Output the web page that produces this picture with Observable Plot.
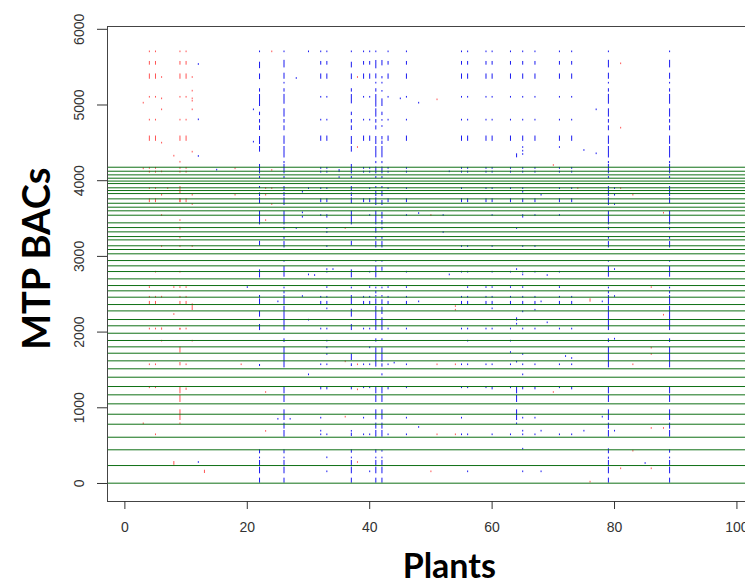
<!DOCTYPE html>
<html><head><meta charset="utf-8">
<script src="https://cdn.jsdelivr.net/npm/d3@7"></script>
<script src="https://cdn.jsdelivr.net/npm/@observablehq/plot@0.6"></script>
<style>html,body{margin:0;padding:0;background:#fff;overflow:hidden}svg{display:block}</style>
</head><body><div id="chart"></div>
<script>
const xTicks=[0,20,40,60,80,100];
const yTicks=[0,1000,2000,3000,4000,5000,6000];
const greenLines=[4178,4125,4077,4033,3995,3962,3906,3870,3830,3760,3702,3650,3602,3544,3443,3381,3324,3262,3218,3140,3091,3034,2945,2875,2800,2703,2615,2545,2461,2364,2280,2166,2083,1985,1889,1805,1721,1620,1515,1404,1281,1171,1052,915,783,611,445,237,4];

// Long vertical runs of the densely scored plants: [plant, [from,to]...]
const run22=[22,[5712,5692],[5565,5480],[5410,5335],[5215,5170],[5138,4980],[4905,4860],[4808,4760],[4725,4663],[4584,4478],[4452,4377],[4214,4090],[4055,4028],[3923,3896],[3839,3790],[3773,3694],[3597,3416],[3200,3139],[2822,2716],[2483,2452],[2439,2364],[2276,2197],[2100,2020],[1572,1545],[445,392],[348,326],[304,238],[216,128],[70,4]];
const run26=[26,[5712,5692],[5590,5490],[5420,5340],[5296,5280],[5215,5170],[5140,5010],[4950,4840],[4808,4760],[4725,4660],[4590,4480],[4452,4300],[4254,4225],[4214,4090],[4055,4028],[3923,3870],[3843,3790],[3773,3672],[3597,3416],[3385,3350],[3262,3227],[3196,3112],[2945,2923],[2866,2725],[2593,2571],[2540,2505],[2483,2364],[2342,2020],[1911,1862],[1801,1528],[1281,1184],[1162,1070],[973,832],[797,718],[700,612],[445,392],[348,326],[304,238],[216,128],[70,4]];
const run37=[37,[5712,5692],[5565,5490],[5410,5335],[5215,5170],[5138,5015],[4905,4860],[4808,4760],[4725,4663],[4584,4478],[4452,4377],[4214,4090],[4055,4028],[3923,3870],[3839,3790],[3773,3694],[3597,3416],[3200,3139],[2822,2716],[2593,2571],[2483,2364],[2302,2197],[2100,2020],[1713,1625],[1581,1545],[1281,1237],[700,678],[665,621],[445,400],[348,326],[304,238],[216,128],[70,4]];
const run41=[41,[5712,5692],[5588,5478],[5411,5345],[5297,5280],[5215,5170],[5138,4971],[4949,4839],[4808,4760],[4725,4670],[4584,4478],[4452,4302],[4254,4225],[4180,4090],[4055,4028],[3923,3896],[3860,3790],[3773,3672],[3597,3416],[3385,3306],[3262,3227],[3196,3112],[2945,2923],[2866,2716],[2593,2571],[2540,2505],[2483,2461],[2439,2364],[2342,2020],[1911,1867],[1792,1537],[1281,1184],[1162,1070],[973,841],[797,718],[700,612],[445,400],[348,326],[304,238],[216,128],[70,4]];
const run42=[42,[5588,5517],[5376,5345],[5297,5280],[5191,5170],[5081,4980],[4905,4860],[4808,4786],[4725,4707],[4584,4540],[4522,4478],[4452,4302],[4254,4225],[4180,4090],[4055,4028],[3923,3896],[3860,3790],[3738,3672],[3583,3495],[3473,3416],[3385,3350],[3262,3227],[3196,3112],[2945,2923],[2857,2804],[2593,2571],[2483,2461],[2426,2364],[2329,2232],[2188,2020],[1911,1889],[1792,1603],[1581,1537],[1449,1422],[1281,1184],[1162,1070],[973,841],[797,718],[700,612],[436,414],[348,326],[304,238],[216,128],[70,4]];
const run79=[79,[5712,5692],[5590,5490],[5420,5340],[5296,5280],[5215,5170],[5140,5010],[4950,4840],[4808,4760],[4725,4660],[4590,4480],[4452,4300],[4254,4225],[4214,4090],[4055,4028],[3923,3790],[3773,3672],[3597,3416],[3385,3350],[3262,3227],[3196,3112],[2945,2923],[2866,2725],[2593,2571],[2540,2505],[2483,2364],[2342,2020],[1911,1862],[1801,1528],[1281,1184],[1162,1070],[973,832],[797,718],[700,612],[458,392],[348,320],[304,238],[216,128],[70,4]];
const run89=[89,[5712,5692],[5590,5490],[5420,5340],[5296,5280],[5215,5170],[5140,5010],[4950,4840],[4808,4760],[4725,4660],[4590,4480],[4452,4300],[4254,4225],[4214,4090],[4055,4028],[3923,3790],[3773,3694],[3597,3416],[3385,3350],[3262,3227],[3196,3112],[2945,2923],[2866,2725],[2593,2571],[2540,2505],[2483,2364],[2342,2020],[1911,1862],[1801,1528],[1281,1184],[1162,1070],[973,832],[797,718],[700,612],[445,400],[348,326],[304,238],[216,128],[70,4]];
const run64=[64,[4355,4302],[3368,3368],[2826,2826],[2188,2144],[2104,2104],[1603,1603],[1281,1184],[1162,1070],[973,832],[797,780]];
const run9=[9,[4244,4244],[3923,3826],[3760,3710],[3473,3473],[3385,3350],[3244,3244],[3130,3130],[2791,2791],[2588,2588],[2043,2030],[1801,1722],[1598,1554],[1281,1184],[1162,1070],[973,832],[797,780]];

// Recurring rows of the regular plants: [from, to, [plants]]
const regular=[32,33,39,40,43,46,55,56,59,60,63,65,67,71,73];
const redRegular=[4,5,9,10];
const topRows=[[5712,5692],[5575,5526],[5410,5340],[5112,5092],[4810,4790],[4590,4520]];
const midRows=[[4175,4150],[4125,4100],[3760,3710],[2470,2450],[2405,2360],[2050,2030]];

const blueRows=[
[3905,3885,[30,32,33,40,43,46,55,59,60,63,65,71,73,80]],[3848,3848,[29,65]],[3808,3808,[68,80]],[3685,3685,[80]],
[3575,3575,[29]],[3566,3566,[48]],[3540,3540,[32,33,40,46,52,60,65,67,71]],[3517,3517,[29,33,65]],[3368,3368,[28,33]],[3315,3315,[33,52]],
[3130,3130,[33,55,56,60,65,67]],[2826,2826,[33,34,80]],[2791,2791,[33,40,46,55,56,60,63,65,67,71]],[2755,2755,[30,53,65]],[2747,2747,[31,69]],
[2588,2588,[20,33,40,43,46,56,59,60,63,65,71]],[2470,2470,[29,80]],[2399,2399,[48,25,68,78]],[2307,2307,[33,60]],[2267,2267,[65]],[2289,2289,[67]],[2157,2157,[30]],[2122,2122,[69]],
[1880,1880,[33,56,63]],[1906,1906,[80]],[1792,1792,[33,40]],[1730,1730,[63]],[1704,1704,[33,65]],[1677,1677,[72]],[1651,1651,[73]],[1590,1590,[44]],
[1568,1568,[32,33,39,40,43,46,55,56,59,60,63,65,67,71,73]],[1435,1435,[30,65]],[1281,1237,[32,33,43,60,65,67,73]],[1264,1264,[39,40,46,55,56,59,63,71]],
[863,863,[32,39,46,55,65,67]],[848,848,[25,27]],[876,876,[78]],[740,740,[48]],[691,691,[32,65,68,75,80]],[643,643,[32,33,39,40,43,46,55,56,60,63,65,67,71,73]],
[453,453,[65]],[339,339,[33]],[277,277,[12]],[264,264,[85]],[154,154,[33,40,56,65,68]],
[5535,5535,[12]],[5350,5350,[28]],[5081,5081,[45]],[5024,5024,[48]],[4936,4936,[21,77]],[4804,4804,[12]],[4509,4509,[21]],[4438,4438,[65,71]],[4399,4399,[75]],[4390,4390,[65]],[4355,4355,[77]],[4346,4346,[65]],[4320,4320,[12]],[4139,4139,[15]],[4117,4117,[53]],[4147,4107,[35]],[4041,4041,[35]],[5712,5692,[30]]
];
const redRows=[
[5702,5702,[24]],[5544,5544,[81]],[5363,5363,[6,11,38]],[5183,5183,[11]],[5081,5081,[6,11]],[5050,5050,[11]],[5068,5068,[51]],[5024,5024,[3]],[4936,4936,[6,11]],[4694,4694,[81]],[4496,4496,[6]],[4438,4438,[38]],[4377,4377,[11]],[4324,4324,[8]],[4201,4201,[70]],[4157,4157,[3,18]],[4135,4135,[24]],[4116,4116,[6]],
[3895,3895,[4,5,7,23,24,74,81]],[3808,3808,[6,11,18,23,83]],[3685,3685,[11,24]],[3570,3570,[88]],[3540,3540,[6,50]],[3473,3473,[23]],[3368,3368,[36]],[3130,3130,[6,11]],[2791,2791,[5]],[2588,2588,[4,8,10,86]],[2461,2461,[6]],[2439,2395,[76]],[2373,2285,[11]],[2337,2337,[54]],[2289,2289,[54]],[2232,2232,[8]],[2223,2223,[88]],[2055,2025,[6]],
[1880,1880,[6,11]],[1788,1788,[86]],[1704,1704,[86]],[1607,1607,[36]],[1568,1568,[4,5,10,19,38,51,54,83]],[1264,1264,[4,5]],[1260,1230,[10]],[1237,1237,[38]],[1202,1202,[23,70]],[876,876,[36]],[788,788,[3]],[727,727,[86,88]],[688,688,[23]],[643,643,[5,51,54]],[427,427,[83]],[277,277,[38]],[290,240,[8]],[175,132,[13]],[154,154,[50]],[194,194,[81,86]],[18,18,[76]]
];

const segs=[];
const add=(c,x,a,b)=>{const h=Math.max(Math.abs(a-b),22),m=(a+b)/2;segs.push({x,y1:m-h/2,y2:m+h/2,c});};
for(const [p,...rs] of [run22,run26,run37,run41,run42,run64,run79,run89]) for(const [a,b] of rs) add("blue",p,a,b);
for(const [p,...rs] of [run9]) for(const [a,b] of rs) add("red",p,a,b);
for(const [a,b] of [...topRows,...midRows]){for(const p of regular) add("blue",p,a,b);for(const p of redRegular) add("red",p,a,b);}
for(const [a,b,ps] of blueRows) for(const p of ps) add("blue",p,a,b);
for(const [a,b,ps] of redRows) for(const p of ps) add("red",p,a,b);

const chart=Plot.plot({
  width:745,height:583,marginLeft:107,marginRight:0,marginTop:26,marginBottom:82,
  style:{background:"#fff",fontFamily:"'Liberation Sans',Arial,sans-serif"},
  x:{domain:[-2.84,101.4],label:null},
  y:{domain:[-238,6037],label:null},
  marks:[
    Plot.ruleX(segs.filter(d=>d.c==="red"),{x:"x",y1:"y1",y2:"y2",stroke:"#f55",strokeWidth:1}),
    Plot.ruleX(segs.filter(d=>d.c==="blue"),{x:"x",y1:"y1",y2:"y2",stroke:"#1a1af0",strokeWidth:1}),
    Plot.ruleY(greenLines,{stroke:"#0f7015",strokeWidth:1}),
    Plot.frame({stroke:"#444",strokeWidth:1}),
    Plot.axisX({ticks:xTicks,tickSize:8,tickPadding:13,fontSize:14,color:"#333",label:null}),
    Plot.axisY({ticks:yTicks,tickSize:10,tickPadding:14,tickRotate:-90,fontSize:14,color:"#333",label:null,tickFormat:d=>String(d)}),
    Plot.text(["Plants"],{x:()=>53,y:()=>-1100,fill:"#000",fontSize:34,fontWeight:700,fontFamily:"Lato"}),
    Plot.text(["MTP BACs"],{x:()=>-14.3,y:()=>2970,rotate:-90,fill:"#000",fontSize:38,fontWeight:700,fontFamily:"Lato"})
  ]
});
document.getElementById("chart").appendChild(chart);
</script></body></html>
